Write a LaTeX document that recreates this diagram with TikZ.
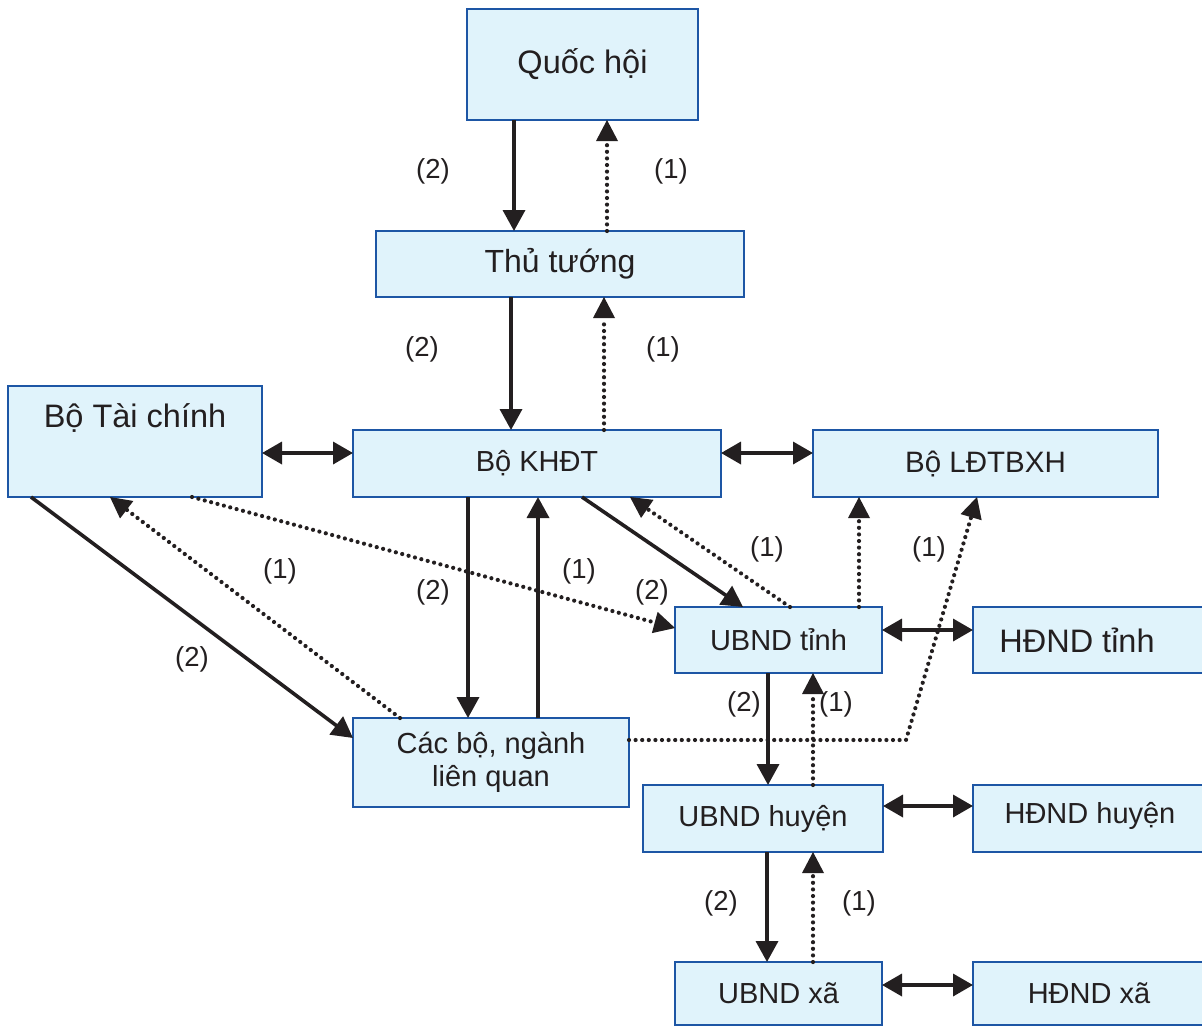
\documentclass[tikz,border=0pt]{standalone}
\usepackage{fontspec}
\setmainfont{Liberation Sans}
\usetikzlibrary{arrows.meta}
\definecolor{boxfill}{HTML}{E0F3FB}
\definecolor{boxline}{HTML}{1D56A5}
\definecolor{ink}{HTML}{231F20}
\tikzset{
  box/.style={draw=boxline, fill=boxfill, line width=2.5pt, rectangle, inner sep=0pt, outer sep=0pt, text=ink, align=center},
  fa/.style={font=\fontsize{29}{33}\selectfont},
  fb/.style={font=\fontsize{32.5}{36}\selectfont},
  lab/.style={font=\fontsize{27.5}{30}\selectfont, text=ink, inner sep=0pt},
  sol/.style={draw=ink, line width=3.6pt, -{Triangle[length=21pt,width=22pt]}},
  dot/.style={draw=ink, line width=4.2pt, line cap=round, dash pattern=on 0pt off 6.6pt, -{Triangle[length=21pt,width=22pt,line width=0pt]}},
  dbl/.style={draw=ink, line width=3.6pt, {Triangle[length=20pt,width=22pt]}-{Triangle[length=20pt,width=22pt]}}
}
\begin{document}
\begin{tikzpicture}[x=1pt,y=-1pt]
\useasboundingbox (0,0) rectangle (1202,1026);
% boxes
\node[box,fb,minimum width=231pt,minimum height=111pt] (qh) at (582.5,64.5) {Quốc hội};
\node[box,font=\fontsize{32}{36}\selectfont,minimum width=368pt,minimum height=66pt] (tt) at (560,264) {Thủ tướng};
\node[box,minimum width=254pt,minimum height=111pt] (tc) at (135,441.5) {};
\node[fb,text=ink,inner sep=0pt] (tctext) at (135,418) {Bộ Tài chính};
\node[box,fa,minimum width=368pt,minimum height=67pt] (kh) at (537,463.5) {Bộ KHĐT};
\node[box,font=\fontsize{29.5}{33}\selectfont,minimum width=345pt,minimum height=67pt] (ld) at (985.5,463.5) {Bộ LĐTBXH};
\node[box,fa,minimum width=207pt,minimum height=66pt] (ut) at (778.5,640) {UBND tỉnh};
\node[box,minimum width=232pt,minimum height=66pt] (ht) at (1089,640) {};
\node[fb,text=ink,inner sep=0pt] (httext) at (1077,640) {HĐND tỉnh};
\node[box,fa,minimum width=276pt,minimum height=89pt] (cb) at (491,762.5) {Các bộ, ngành\\liên quan};
\node[box,fa,minimum width=240pt,minimum height=67pt] (uh) at (763,818.5) {UBND huyện};
\node[box,minimum width=232pt,minimum height=67pt] (hh) at (1089,818.5) {};
\node[fa,text=ink,inner sep=0pt] (hhtext) at (1090,816) {HĐND huyện};
\node[box,fa,minimum width=207pt,minimum height=63pt] (ux) at (778.5,993.5) {UBND xã};
\node[box,minimum width=232pt,minimum height=63pt] (hx) at (1089,993.5) {};
\node[fa,text=ink,inner sep=0pt] (hxtext) at (1089,993) {HĐND xã};
% vertical chain
\draw[sol] (qh.south -| 514,0) -- (tt.north -| 514,0);
\draw[dot] (tt.north -| 607,0) -- (qh.south -| 607,0);
\draw[sol] (tt.south -| 511,0) -- (kh.north -| 511,0);
\draw[dot] (kh.north -| 604,0) -- (tt.south -| 604,0);
\draw[sol] (kh.south -| 468,0) -- (cb.north -| 468,0);
\draw[sol] (cb.north -| 538,0) -- (kh.south -| 538,0);
\draw[sol] (ut.south -| 768,0) -- (uh.north -| 768,0);
\draw[dot] (uh.north -| 813,0) -- (ut.south -| 813,0);
\draw[sol] (uh.south -| 767,0) -- (ux.north -| 767,0);
\draw[dot] (ux.north -| 813,0) -- (uh.south -| 813,0);
% diagonals
\draw[sol] (kh.south -| 582,0) -- (ut.north -| 743,0);
\draw[dot] (ut.north -| 790,0) -- (kh.south -| 630,0);
\draw[dot] (tc.south -| 192,0) -- (ut.west |- 0,628);
\draw[sol] (tc.south -| 31,0) -- (cb.west |- 0,738);
\draw[dot] (cb.north -| 400,0) -- (tc.south -| 110,0);
\draw[dot] (ut.north -| 859,0) -- (ld.south -| 859,0);
\coordinate (kink) at (906,740);
\draw[dot] (cb.east |- 0,740) -- (kink) -- (ld.south -| 977,0);
% double arrows
\draw[dbl] (tc.east |- 0,453) -- (kh.west |- 0,453);
\draw[dbl] (kh.east |- 0,453) -- (ld.west |- 0,453);
\draw[dbl] (ut.east |- 0,630) -- (ht.west |- 0,630);
\draw[dbl] (uh.east |- 0,806) -- (hh.west |- 0,806);
\draw[dbl] (ux.east |- 0,985) -- (hx.west |- 0,985);
% labels
\node[lab] (l1) at (433,171) {(2)};
\node[lab] (l2) at (671,171) {(1)};
\node[lab] (l3) at (422,349) {(2)};
\node[lab] (l4) at (663,349) {(1)};
\node[lab] (l5) at (280,571) {(1)};
\node[lab] (l6) at (192,659) {(2)};
\node[lab] (l7) at (433,592) {(2)};
\node[lab] (l8) at (579,571) {(1)};
\node[lab] (l9) at (652,592) {(2)};
\node[lab] (l10) at (767,549) {(1)};
\node[lab] (l11) at (929,549) {(1)};
\node[lab] (l12) at (744,704) {(2)};
\node[lab] (l13) at (836,704) {(1)};
\node[lab] (l14) at (721,903) {(2)};
\node[lab] (l15) at (859,903) {(1)};
\end{tikzpicture}
\end{document}
